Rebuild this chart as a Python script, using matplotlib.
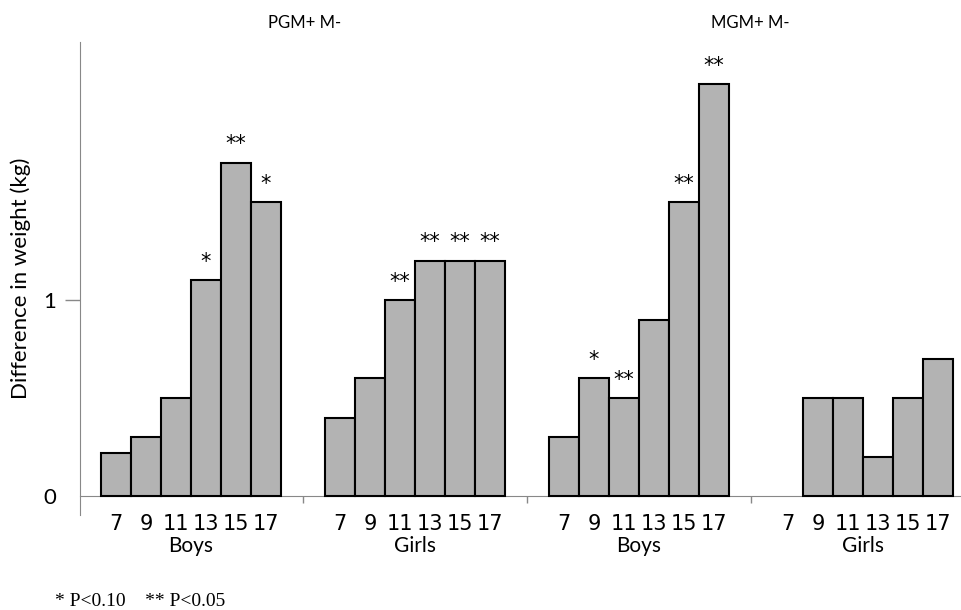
import matplotlib
matplotlib.use("Agg")
import matplotlib.pyplot as plt
from matplotlib import font_manager
import numpy as np

# 数据
ages = ["7", "9", "11", "13", "15", "17"]
group_names = ["Boys", "Girls", "Boys", "Girls"]
panel_titles = ["PGM+ M-", "MGM+ M-"]

pgm_boys = [0.22, 0.30, 0.50, 1.10, 1.70, 1.50]
pgm_girls = [0.40, 0.60, 1.00, 1.20, 1.20, 1.20]
mgm_boys = [0.30, 0.60, 0.50, 0.90, 1.50, 2.10]
mgm_girls = [0.00, 0.50, 0.50, 0.20, 0.50, 0.70]

pgm_boys_sig = ["", "", "", "*", "**", "*"]
pgm_girls_sig = ["", "", "**", "**", "**", "**"]
mgm_boys_sig = ["", "*", "**", "", "**", "**"]
mgm_girls_sig = ["", "", "", "", "", ""]

series = [pgm_boys, pgm_girls, mgm_boys, mgm_girls]
sigs = [pgm_boys_sig, pgm_girls_sig, mgm_boys_sig, mgm_girls_sig]


def pick_font(names):
    for nm in names:
        try:
            font_manager.findfont(font_manager.FontProperties(family=nm), fallback_to_default=False)
            return nm
        except Exception:
            pass
    return "DejaVu Sans"


sans = pick_font(["Lato", "Open Sans"])

fig = plt.figure(figsize=(9.61, 6.10), dpi=100)
ax = fig.add_axes([80 / 961, 95 / 610, 881 / 961, 473 / 610])

n = len(ages)
step = 7.467   # 组间距
x_all = []
labels_all = []
for g, vals in enumerate(series):
    x = g * step + np.arange(n)
    # 高度为0的柱子不画边框
    edges = ["black" if v > 0 else "none" for v in vals]
    ax.bar(x, vals, width=1.0, color="#b3b3b3", edgecolor=edges, linewidth=1.5, zorder=3)
    for xi, v, s in zip(x, vals, sigs[g]):
        if s:
            ax.annotate(s, (xi, v), xytext=(0, 6), textcoords="offset points",
                        ha="center", va="bottom", fontsize=15, family="DejaVu Sans")
    ax.text(x.mean(), -0.255, group_names[g], ha="center", va="center",
            fontsize=15, family=sans)
    x_all.extend(x)
    labels_all.extend(ages)

# 分组分隔刻度
seps = [(g * step + n - 1 + (g + 1) * step) / 2 for g in range(3)]

ax.set_xlim(-1.2, 28.17)
ax.set_ylim(-0.097, 2.316)

ax.set_xticks(x_all)
ax.set_xticklabels(labels_all)
ax.set_xticks(seps, minor=True)
ax.tick_params(axis="x", which="major", length=0, pad=13, labelsize=15)
ax.tick_params(axis="x", which="minor", length=5, color="#888888", width=1)
for lab in ax.get_xticklabels():
    lab.set_family(sans)

ax.set_yticks([0, 1])
ax.set_yticklabels(["0", "1"])
ax.tick_params(axis="y", length=11, color="#888888", width=1, pad=6, labelsize=16)
for lab in ax.get_yticklabels():
    lab.set_family(sans)
ax.yaxis.get_major_ticks()[0].tick1line.set_visible(False)

for side in ["top", "right"]:
    ax.spines[side].set_visible(False)
ax.spines["bottom"].set_position(("data", 0))
ax.spines["bottom"].set_color("#888888")
ax.spines["left"].set_color("#888888")

ax.set_ylabel("Difference in weight (kg)", fontsize=16, family=sans, labelpad=9)

fig.text(305 / 961, 1 - 23 / 610, panel_titles[0], ha="center", va="center", fontsize=12, family=sans)
fig.text(750 / 961, 1 - 23 / 610, panel_titles[1], ha="center", va="center", fontsize=12, family=sans)

fig.text(55 / 961, 1 - 602 / 610, "* P<0.10    ** P<0.05", ha="left", va="center",
         fontsize=14, family=["Liberation Serif", "DejaVu Serif"])

fig.savefig("out.png", dpi=100)
